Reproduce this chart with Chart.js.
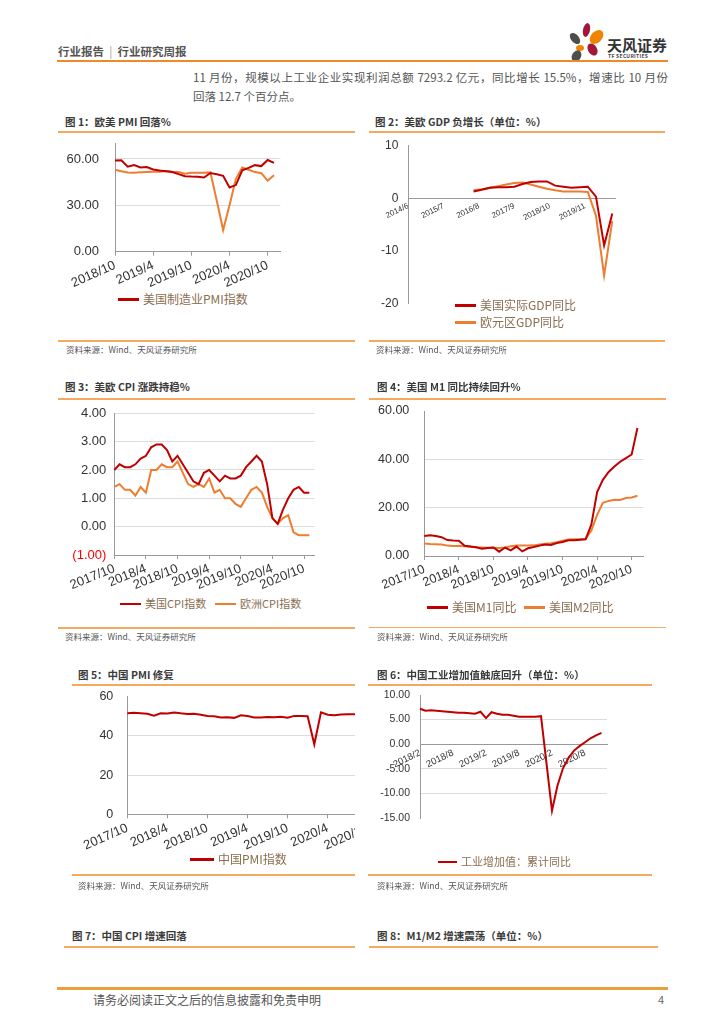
<!DOCTYPE html>
<html lang="zh-CN">
<head>
<meta charset="UTF-8">
<title>行业研究周报</title>
<script src="https://cdn.jsdelivr.net/npm/chart.js"></script>
<style>
    body {
        margin: 0;
        width: 724px;
        height: 1024px;
        position: relative;
        overflow: hidden;
        background: #fff;
        font-family: "Noto Sans CJK SC", "Noto Sans", sans-serif;
    }
    .t { position: absolute; white-space: nowrap; line-height: 1; }
    .title { font-size: 10.5px; font-weight: bold; color: #3a3a3a; }
    .src { font-size: 8.5px; color: #555; }
    .hl { position: absolute; height: 1.5px; background: #F5A85E; }
    .lg { position: absolute; white-space: nowrap; font-size: 12px; line-height: 14px; color: #8a6e50; }
    .lg i { display: inline-block; width: 21px; height: 2.5px; vertical-align: middle; margin: -2px 4px 0 0; }
    .wrap { position: absolute; overflow: hidden; }
    .petal { position: absolute; border-radius: 50%; }
</style>
</head>
<body>

<!-- header -->
<div class="t" style="left:58px;top:46px;font-size:11.5px;font-weight:bold;color:#555;">行业报告 &nbsp;<span style="color:#999;font-weight:normal;">|</span>&nbsp; 行业研究周报</div>
<div class="petal" style="left:571px;top:32px;width:8px;height:13px;background:#4d4d4d;transform:rotate(-40deg)"></div>
<div class="petal" style="left:583px;top:23px;width:7px;height:14px;background:#A3173A;transform:rotate(12deg)"></div>
<div class="petal" style="left:591px;top:29px;width:11px;height:16px;background:#F08300;transform:rotate(45deg)"></div>
<div class="petal" style="left:576px;top:45px;width:8px;height:6px;background:#F08300;"></div>
<div class="petal" style="left:588px;top:43px;width:9px;height:13px;background:#A3173A;transform:rotate(-30deg)"></div>
<div class="petal" style="left:572px;top:50px;width:9px;height:12px;background:#4d4d4d;transform:rotate(30deg)"></div>
<div class="t" style="left:607px;top:37px;font-size:15px;font-weight:bold;color:#333;">天风证券</div>
<div class="t" style="left:608px;top:53px;font-size:5px;font-weight:bold;color:#444;letter-spacing:0.3px;">TF SECURITIES</div>
<div style="position:absolute;left:57px;top:60px;width:611px;height:2px;background:#EE8A2A;"></div>

<div class="t" style="left:193px;top:72px;width:475px;font-size:11.5px;color:#555;text-align:justify;text-align-last:justify;">11 月份，规模以上工业企业实现利润总额 7293.2 亿元，同比增长 15.5%，增速比 10 月份</div>
<div class="t" style="left:193px;top:91px;font-size:11.5px;color:#555;">回落 12.7 个百分点。</div>

<!-- panel 1 -->
<div class="t title" style="left:65px;top:116.5px;">图 1：欧美 PMI 回落%</div>
<div class="hl" style="left:58px;top:131px;width:297px;"></div>
<div class="wrap" id="box1"></div>
<div class="lg" style="left:118px;top:292px;"><i style="background:#C00000"></i>美国制造业PMI指数</div>
<div class="hl" style="left:58px;top:340px;width:297px;"></div>
<div class="t src" style="left:66px;top:345px;">资料来源：Wind、天风证券研究所</div>

<!-- panel 2 -->
<div class="t title" style="left:375px;top:116.5px;">图 2：美欧 GDP 负增长（单位：%）</div>
<div class="hl" style="left:369px;top:131px;width:296px;"></div>
<div class="wrap" id="box2"></div>
<div class="lg" style="left:455px;top:298px;"><i style="background:#C00000"></i>美国实际GDP同比</div>
<div class="lg" style="left:455px;top:315px;"><i style="background:#ED7D31"></i>欧元区GDP同比</div>
<div class="hl" style="left:369px;top:340px;width:296px;"></div>
<div class="t src" style="left:376px;top:345px;">资料来源：Wind、天风证券研究所</div>

<!-- panel 3 -->
<div class="t title" style="left:65px;top:381.5px;">图 3：美欧 CPI 涨跌持稳%</div>
<div class="hl" style="left:58px;top:398px;width:297px;"></div>
<div class="wrap" id="box3"></div>
<div class="lg" style="left:120px;top:596px;font-size:11px;"><i style="background:#C00000"></i>美国CPI指数</div>
<div class="lg" style="left:215px;top:596px;font-size:11px;"><i style="background:#ED7D31"></i>欧洲CPI指数</div>
<div class="hl" style="left:58px;top:627px;width:297px;"></div>
<div class="t src" style="left:65px;top:631.5px;">资料来源：Wind、天风证券研究所</div>

<!-- panel 4 -->
<div class="t title" style="left:377px;top:382px;">图 4：美国 M1 同比持续回升%</div>
<div class="hl" style="left:369px;top:398px;width:297px;"></div>
<div class="wrap" id="box4"></div>
<div class="lg" style="left:427px;top:600px;"><i style="background:#C00000"></i>美国M1同比</div>
<div class="lg" style="left:524px;top:600px;"><i style="background:#ED7D31"></i>美国M2同比</div>
<div class="hl" style="left:369px;top:626.5px;width:297px;"></div>
<div class="t src" style="left:377px;top:631.5px;">资料来源：Wind、天风证券研究所</div>

<!-- panel 5 -->
<div class="t title" style="left:78px;top:669.5px;">图 5：中国 PMI 修复</div>
<div class="hl" style="left:72px;top:684px;width:283px;"></div>
<div class="wrap" id="box5"></div>
<div class="lg" style="left:190px;top:852px;"><i style="background:#C00000;width:24px"></i>中国PMI指数</div>
<div class="hl" style="left:72px;top:874px;width:283px;"></div>
<div class="t src" style="left:78px;top:880.5px;">资料来源：Wind、天风证券研究所</div>

<!-- panel 6 -->
<div class="t title" style="left:377px;top:669.5px;">图 6：中国工业增加值触底回升（单位：%）</div>
<div class="hl" style="left:368px;top:684px;width:284px;"></div>
<div class="wrap" id="box6"></div>
<div class="lg" style="left:438px;top:854px;font-size:11px;"><i style="background:#C00000;width:19px"></i>工业增加值：累计同比</div>
<div class="hl" style="left:368px;top:874px;width:284px;"></div>
<div class="t src" style="left:377px;top:880.5px;">资料来源：Wind、天风证券研究所</div>

<!-- panel 7 / 8 -->
<div class="t title" style="left:72px;top:930.5px;">图 7：中国 CPI 增速回落</div>
<div class="hl" style="left:64px;top:946px;width:291px;"></div>
<div class="t title" style="left:377px;top:930.5px;">图 8：M1/M2 增速震荡（单位：%）</div>
<div class="hl" style="left:369px;top:946px;width:289px;"></div>

<!-- footer -->
<div style="position:absolute;left:57px;top:987px;width:611px;height:2.5px;background:#E9A23B;"></div>
<div class="t" style="left:93px;top:994px;font-size:12px;color:#555;">请务必阅读正文之后的信息披露和免责申明</div>
<div class="t" style="left:658px;top:994px;font-size:11px;color:#666;">4</div>

<script>
Chart.defaults.font.family = '"Liberation Sans", Arial, sans-serif';
Chart.defaults.color = '#333';
Chart.defaults.animation = false;

var RED = '#C00000';
var ORANGE = '#ED7D31';

function months(start, count) {
    var p = start.split('/'), y = +p[0], m = +p[1], out = [];
    for (var i = 0; i < count; i++) {
        out.push(y + '/' + m);
        m++;
        if (m > 12) { m = 1; y++; }
    }
    return out;
}

// 图1 欧美PMI
var pmiMonths = months('2018/10', 27);
var usPmi = [59.0, 59.2, 55.0, 56.0, 54.5, 54.8, 53.2, 52.5, 52.0, 51.5, 50.2, 48.8, 48.6,
    48.5, 48.0, 50.9, 50.1, 49.1, 41.5, 43.1, 52.6, 54.2, 56.0, 55.4, 59.3, 57.5];
var euPmi = [53.0, 52.0, 51.2, 51.0, 51.4, 51.6, 51.8, 51.8, 52.2, 51.8, 51.5, 50.4, 51.0,
    51.0, 51.0, 51.3, 33.0, 14.0, 30.0, 47.0, 54.5, 53.0, 51.5, 50.8, 46.0, 49.5];

// 图2 美欧GDP (季度)
var gdpMonths = months('2014/6', 77);
var gdpQuarters = ['2016/6', '2016/9', '2016/12', '2017/3', '2017/6', '2017/9', '2017/12', '2018/3', '2018/6',
    '2018/9', '2018/12', '2019/3', '2019/6', '2019/9', '2019/12', '2020/3', '2020/6', '2020/9'];
var usGdp = [1.3, 1.6, 2.0, 2.1, 2.1, 2.2, 2.7, 3.1, 3.2, 3.2, 2.4, 2.2, 2.0, 2.1, 2.2, 0.3, -9.0, -2.9];
var euGdp = [1.5, 1.7, 2.0, 2.3, 2.6, 2.9, 3.0, 2.6, 2.2, 1.8, 1.5, 1.3, 1.3, 1.3, 1.2, -3.3, -14.7, -4.3];

// 图3 美欧CPI
var cpiMonths = months('2017/10', 39);
var usCpi = [2.0, 2.2, 2.1, 2.1, 2.2, 2.4, 2.5, 2.8, 2.9, 2.9, 2.7, 2.3, 2.5, 2.2, 1.9, 1.6, 1.5, 1.9, 2.0,
    1.8, 1.6, 1.8, 1.7, 1.7, 1.8, 2.1, 2.3, 2.5, 2.3, 1.5, 0.3, 0.1, 0.6, 1.0, 1.3, 1.4, 1.2, 1.2];
var euCpi = [1.4, 1.5, 1.3, 1.3, 1.1, 1.4, 1.2, 2.0, 2.0, 2.2, 2.1, 2.1, 2.3, 1.9, 1.5, 1.4, 1.5, 1.4, 1.7,
    1.2, 1.3, 1.0, 1.0, 0.8, 0.7, 1.0, 1.3, 1.4, 1.2, 0.7, 0.3, 0.1, 0.3, 0.4, -0.2, -0.3, -0.3, -0.3];

// 图4 美国M1/M2
var moneyMonths = months('2017/10', 39);
var usM1 = [8.3, 8.6, 8.3, 7.8, 6.6, 6.4, 6.3, 4.2, 3.9, 3.6, 3.0, 3.3, 3.5, 1.8, 3.5, 2.3, 3.9, 1.9, 3.2,
    3.7, 4.3, 4.8, 4.6, 5.4, 5.8, 6.5, 6.5, 6.7, 6.9, 13.0, 26.5, 31.5, 34.8, 37.0, 39.0, 40.5, 42.0, 53.0];
var usM2 = [5.2, 5.0, 4.9, 4.8, 4.3, 4.1, 4.1, 4.0, 3.8, 3.6, 3.5, 3.4, 3.4, 3.3, 3.5, 4.0, 4.3, 4.3, 4.3,
    4.4, 4.8, 5.1, 5.3, 5.7, 6.3, 6.8, 6.9, 6.9, 7.0, 10.5, 17.0, 22.0, 22.8, 23.3, 23.2, 24.0, 24.2, 24.9];

// 图5 中国PMI
var cnPmiMonths = months('2017/10', 39);
var cnPmi = [51.6, 51.8, 51.6, 51.3, 50.3, 51.5, 51.4, 51.9, 51.5, 51.2, 51.3, 50.8, 50.2, 50.0, 49.4,
    49.5, 49.2, 50.5, 50.1, 49.4, 49.4, 49.7, 49.5, 49.8, 49.3, 50.2, 50.2, 50.0, 35.7, 52.0, 50.8,
    50.6, 50.9, 51.1, 51.0, 51.5, 51.4, 52.1];

// 图6 工业增加值累计同比
var ivaMonths = months('2018/2', 35);
var cnIva = [7.2, 6.8, 6.9, 6.8, 6.7, 6.6, 6.5, 6.4, 6.4, 6.3, 6.2, 6.6, 5.3, 6.5, 6.2, 6.0, 6.0, 5.8,
    5.6, 5.6, 5.6, 5.6, 5.7, null, -13.5, -8.4, -4.9, -2.8, -1.3, -0.4, 0.4, 1.2, 1.8, 2.3];

function fixed2(v) { return v.toFixed(2); }

// g: canvas box (x, y, w, h) and plot box (l, t, r, b) in page pixels
function makeLine(n, g, labels, series, o) {
    var box = document.getElementById('box' + n);
    box.style.left = g.x + 'px';
    box.style.top = g.y + 'px';
    box.style.width = (g.clip || g.w) + 'px';
    box.style.height = g.h + 'px';

    var xAt = o.xAt !== undefined;
    var pad = { top: g.t - g.y, right: g.x + g.w - g.r, below: g.y + g.h - g.b };

    function build() {
        box.innerHTML = '';
        var cv = document.createElement('canvas');
        cv.width = g.w;
        cv.height = g.h;
        cv.style.width = g.w + 'px';
        cv.style.height = g.h + 'px';
        box.appendChild(cv);
        var below = pad.below;
        return new Chart(cv, {
            type: 'line',
            data: {
                labels: labels,
                datasets: series.map(function (s) {
                    return {
                        data: s.data,
                        borderColor: s.color,
                        borderWidth: 2,
                        pointRadius: 0,
                        tension: 0,
                        fill: false,
                        spanGaps: true
                    };
                })
            },
            options: {
                responsive: false,
                animation: false,
                layout: { padding: { top: pad.top, right: pad.right, left: 0, bottom: xAt ? below : 0 } },
                plugins: { legend: { display: false }, tooltip: { enabled: false } },
                scales: {
                    x: {
                        type: 'category',
                        offset: false,
                        position: xAt ? { y: o.xAt } : 'bottom',
                        grid: { drawOnChartArea: false, drawTicks: !!o.xTicks, tickLength: 4, color: '#999' },
                        border: { color: '#999' },
                        ticks: {
                            autoSkip: false,
                            minRotation: o.rot,
                            maxRotation: o.rot,
                            padding: o.xPad,
                            color: '#333',
                            font: { size: o.xFont },
                            callback: function (v, i) {
                                return i % o.every === 0 ? this.getLabelForValue(v) : null;
                            }
                        },
                        afterFit: xAt ? undefined : function (s) { s.height = below; }
                    },
                    y: {
                        min: o.min,
                        max: o.max,
                        afterBuildTicks: o.yTicks ? function (s) {
                            s.ticks = o.yTicks.map(function (v) { return { value: v }; });
                        } : undefined,
                        grid: {
                            drawTicks: false,
                            color: function (c) {
                                return o.grid.indexOf(c.tick.value) >= 0 ? '#dcdcdc' : 'rgba(0,0,0,0)';
                            }
                        },
                        border: { color: '#999' },
                        ticks: {
                            stepSize: o.step,
                            padding: o.yPad,
                            font: { size: o.yFont },
                            color: o.yColor || '#333',
                            callback: o.fmt || function (v) { return v; }
                        },
                        afterFit: function (s) {
                            s.width = g.l - g.x;
                            // tick padding is otherwise added above and below the plot
                            s.paddingTop = 0;
                            s.paddingBottom = 0;
                        }
                    }
                }
            }
        });
    }

    // rebuild with corrected padding until the plot area sits where the reference has it
    var chart = build();
    for (var k = 0; k < 3; k++) {
        var y = chart.scales.y;
        var dt = y.getPixelForValue(o.max) - (g.t - g.y);
        var db = y.getPixelForValue(o.min) - (g.b - g.y);
        var dr = chart.chartArea.right - (g.r - g.x);
        if (Math.abs(dt) < 0.3 && Math.abs(db) < 0.3 && Math.abs(dr) < 0.3) break;
        pad.top = Math.max(0, pad.top - dt);
        pad.right += dr;
        pad.below += db;
        chart.destroy();
        chart = build();
    }
    return chart;
}

makeLine(1, { x: 62, y: 135, w: 230, h: 155, l: 115, t: 143.5, r: 280.4, b: 251.7 },
    pmiMonths,
    [{ data: usPmi, color: RED }, { data: euPmi, color: ORANGE }],
    { min: 0, max: 70, yTicks: [0, 30, 60], grid: [30, 60], fmt: fixed2, yFont: 13, yPad: 16,
      rot: 24, xFont: 13, xPad: 2, every: 6, xTicks: true });

makeLine(2, { x: 370, y: 136, w: 255, h: 177, l: 408.3, t: 145.7, r: 615, b: 303.3 },
    gdpMonths,
    [{ data: gdpQuarters.map(function (q, i) { return { x: q, y: usGdp[i] }; }), color: RED },
     { data: gdpQuarters.map(function (q, i) { return { x: q, y: euGdp[i] }; }), color: ORANGE }],
    { min: -20, max: 10, step: 10, grid: [], yFont: 12, yPad: 10, xAt: 0,
      rot: 26, xFont: 8, xPad: 3, every: 13, xTicks: false });

makeLine(3, { x: 62, y: 403, w: 265, h: 192, l: 114.3, t: 413.3, r: 314.6, b: 555 },
    cpiMonths,
    [{ data: usCpi, color: RED }, { data: euCpi, color: ORANGE }],
    { min: -1, max: 4, step: 1, grid: [0, 1, 2, 3, 4], yFont: 13, yPad: 8,
      fmt: function (v) { return v < 0 ? '(' + Math.abs(v).toFixed(2) + ')' : v.toFixed(2); },
      yColor: function (c) { return c.tick && c.tick.value < 0 ? '#FF0000' : '#333'; },
      rot: 22, xFont: 13, xPad: 2, every: 6, xTicks: true });

makeLine(4, { x: 372, y: 400, w: 282, h: 198, l: 424.3, t: 411, r: 643.2, b: 556 },
    moneyMonths,
    [{ data: usM1, color: RED }, { data: usM2, color: ORANGE }],
    { min: 0, max: 60, step: 20, grid: [20, 40], fmt: fixed2, yFont: 12.5, yPad: 15,
      rot: 22, xFont: 12.5, xPad: 2, every: 6, xTicks: true });

makeLine(5, { x: 62, y: 686, w: 330, h: 169, l: 127.3, t: 696.7, r: 381.1, b: 814.3, clip: 293 },
    cnPmiMonths,
    [{ data: cnPmi, color: RED }],
    { min: 0, max: 60, step: 20, grid: [20, 40], yFont: 12.5, yPad: 14,
      rot: 24, xFont: 13, xPad: 2, every: 6, xTicks: true });

makeLine(6, { x: 372, y: 686, w: 248, h: 142, l: 420, t: 695, r: 607, b: 818 },
    ivaMonths,
    [{ data: cnIva, color: RED }],
    { min: -15, max: 10, step: 5, grid: [5, -5, -10], fmt: fixed2, yFont: 10.5, yPad: 10, xAt: 0,
      rot: 26, xFont: 9.5, xPad: 3, every: 6, xTicks: false });
</script>

</body>
</html>
